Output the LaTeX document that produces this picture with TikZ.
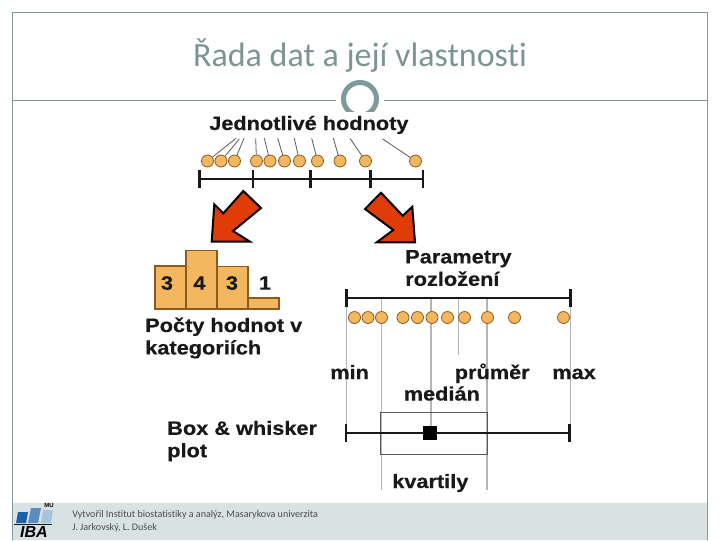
\documentclass[tikz,border=0pt]{standalone}
\usepackage{fontspec}
\setmainfont{Liberation Sans}
\newfontfamily\carl[Ligatures=NoCommon]{Carlito}
\newfontfamily\libs{Liberation Sans}
\newfontfamily\labf[FakeStretch=1.124,BoldFeatures={FakeBold=0.5}]{Liberation Sans}
\definecolor{frameC}{HTML}{7F9A9A}
\definecolor{titleC}{HTML}{7D9494}
\definecolor{footC}{HTML}{D9E2E3}
\definecolor{dotC}{HTML}{F4B65F}
\definecolor{dotE}{HTML}{8A5A1E}
\definecolor{arrC}{HTML}{E03C08}
\definecolor{guideC}{HTML}{B4B4B4}
\definecolor{logoA}{HTML}{1F5FA8}
\definecolor{logoB}{HTML}{5C8BC4}
\definecolor{logoC}{HTML}{A9C0DE}
\tikzset{
  px/.style={x=0.75pt,y=-0.75pt},
  dot/.style={circle,draw=dotE,fill=dotC,line width=.6pt,minimum size=9pt,inner sep=0pt},
  lead/.style={draw=black!65,line width=.6pt},
  axisl/.style={draw=black!90,line width=2pt},
  tick/.style={draw=black!90,line width=2pt},
  guide/.style={draw=guideC,line width=.8pt},
  bar/.style={draw=dotE,fill=dotC,line width=.8pt},
  bigarrow/.style={draw=black,fill=arrC,line width=1.5pt,line join=miter},
  lab/.style={font=\labf\bfseries\fontsize{14.5pt}{16.8pt}\selectfont,inner sep=0pt,anchor=west,text=black!90,align=left},
  labb/.style={lab,anchor=base west},
  cnt/.style={font=\labf\bfseries\fontsize{14.5pt}{17pt}\selectfont,inner sep=0pt,text=black!90}
}
\begin{document}
\begin{tikzpicture}[px]
\useasboundingbox (0,0) rectangle (720,540);
% frame
\draw[frameC,line width=.7pt] (12.5,540) -- (12.5,12.5) -- (707.5,12.5) -- (707.5,540);
\fill[footC] (13,503) rectangle (707,540);
\draw[frameC,line width=.7pt] (12.5,100.5) -- (336,100.5);
\draw[frameC,line width=.7pt] (384,100.5) -- (707.5,100.5);
\begin{scope}
\clip (330,70) rectangle (390,111);
\draw[frameC,line width=3.75pt] (360,99) circle[radius=16.5];
\end{scope}
\node[font=\carl\fontsize{25.5pt}{30pt}\selectfont,text=titleC,inner sep=0] (title) at (360,55) {Řada dat a její vlastnosti};
% top group
\node[labb] (jh) at (209,130) {Jednotlivé hodnoty};
\foreach \n/\x in {a/207.5,b/221,c/234.5,d/256.5,e/270,f/284.5,g/299.5,h/317.5,i/340,j/365.5,k/415.5}
  \node[dot] (\n) at (\x,161) {};
\coordinate (la) at (236,138.3);\coordinate (lb) at (239.3,139);\coordinate (lc) at (244,138.3);
\coordinate (ld) at (255.7,138.3);\coordinate (le) at (264.3,138.3);\coordinate (lf) at (277.7,138.3);
\coordinate (lg) at (294.3,138.3);\coordinate (lh) at (311.7,138.3);\coordinate (li) at (333.3,138.3);
\coordinate (lj) at (350,138.3);\coordinate (lk) at (382.7,139);
\foreach \n in {a,b,c,d,e,f,g,h,i,j,k} \draw[lead] (l\n) -- (\n);
\coordinate (ax0) at (199.5,179);\coordinate (ax1) at (423,179);
\draw[axisl] (ax0) -- (ax1);
\foreach \x in {199.5,253,310.5,370.5,423} \draw[tick] (\x,170) -- (\x,188);
% arrows
\draw[bigarrow] (243.3,191) -- (261,208) -- (233,231) -- (250,241.7) -- (211.7,241.7) -- (214.3,204.3) -- (223.3,213.3) -- cycle;
\draw[bigarrow] (381,192.7) -- (365,209) -- (393.3,230) -- (376.7,242.3) -- (415,242.3) -- (412.3,206.7) -- (402.7,215.7) -- cycle;
% histogram
\draw[bar] (155,266) rectangle (186,309);
\draw[bar] (186,250.5) rectangle (217,309);
\draw[bar] (217,266.5) rectangle (248,309);
\draw[bar] (248,298) rectangle (279,309);
\node[cnt] (n3a) at (167,283) {3};
\node[cnt] (n4) at (199.5,283) {4};
\node[cnt] (n3b) at (232,283) {3};
\node[cnt] (n1) at (265,283) {1};
\node[lab] (pocty) at (145,338) {Počty hodnot v\\kategoriích};
% parameters
\node[lab] (par) at (405,268) {Parametry\\rozložení};
\coordinate (g1) at (346.5,298);\coordinate (g1e) at (346.5,430);
\coordinate (g2) at (381.5,298);\coordinate (g2e) at (381.5,490);
\coordinate (g3) at (431,298);\coordinate (g3e) at (431,430);
\coordinate (g4) at (458.5,298);\coordinate (g4e) at (458.5,355);
\coordinate (g5) at (487,298);\coordinate (g5e) at (487,490);
\coordinate (g6) at (570.5,298);\coordinate (g6e) at (570.5,430);
\foreach \i in {1,...,6} \draw[guide] (g\i) -- (g\i e);
\draw[axisl] (g1) -- (g6);
\draw[tick] (346.5,289) -- (346.5,307);
\draw[tick] (570.5,289) -- (570.5,307);
\foreach \n/\x in {pa/354.5,pb/368,pc/381.5,pd/403,pe/417.5,pf/432,pg/447.5,ph/464.5,pi/487.5,pj/514.5,pk/563.5}
  \node[dot] (\n) at (\x,317.5) {};
\node[labb] (min) at (330,379) {min};
\node[labb] (prumer) at (454.5,379) {průměr};
\node[labb] (max) at (552,379) {max};
\node[labb] (median) at (403.5,400.5) {medián};
\node[lab] (box) at (167,441) {Box \& whisker\\plot};
\node[draw=black!65,line width=.7pt,inner sep=0,minimum width=79.9pt,minimum height=31.5pt] (qbox) at (434,433.5) {};
\coordinate (w0) at (346,433);\coordinate (w1) at (569.5,433);
\draw[axisl] (w0) -- (w1);
\draw[tick] (346,424) -- (346,442);
\draw[tick] (569.5,424) -- (569.5,442);
\node[fill=black,inner sep=0,minimum size=10.5pt] (med) at (430,433) {};
\node[labb] (kv) at (392,488) {kvartily};
% footer
\node[font=\carl\fontsize{7.55pt}{9.7pt}\selectfont,text=black!70,anchor=west,align=left,inner sep=0] (ft) at (72,521) {Vytvořil Institut biostatistiky a analýz, Masarykova univerzita\\J. Jarkovský, L. Dušek};
\fill[black!90] (14,523.5) rectangle (52,524.7);
\fill[logoA] (16,523) -- (18,512) -- (28,512) -- (26,523) -- cycle;
\fill[logoB] (28,523) -- (31,508) -- (41,508) -- (38,523) -- cycle;
\fill[logoC] (41,523) -- (43,510) -- (53,510) -- (51,523) -- cycle;
\node[font=\libs\bfseries\itshape\fontsize{12pt}{14pt}\selectfont,inner sep=0,text=black,anchor=base] (iba) at (34,537.5) {IBA};
\node[font=\libs\bfseries\fontsize{4.5pt}{5pt}\selectfont,inner sep=0,text=black] (mu) at (49,505) {MU};
\end{tikzpicture}
\end{document}
